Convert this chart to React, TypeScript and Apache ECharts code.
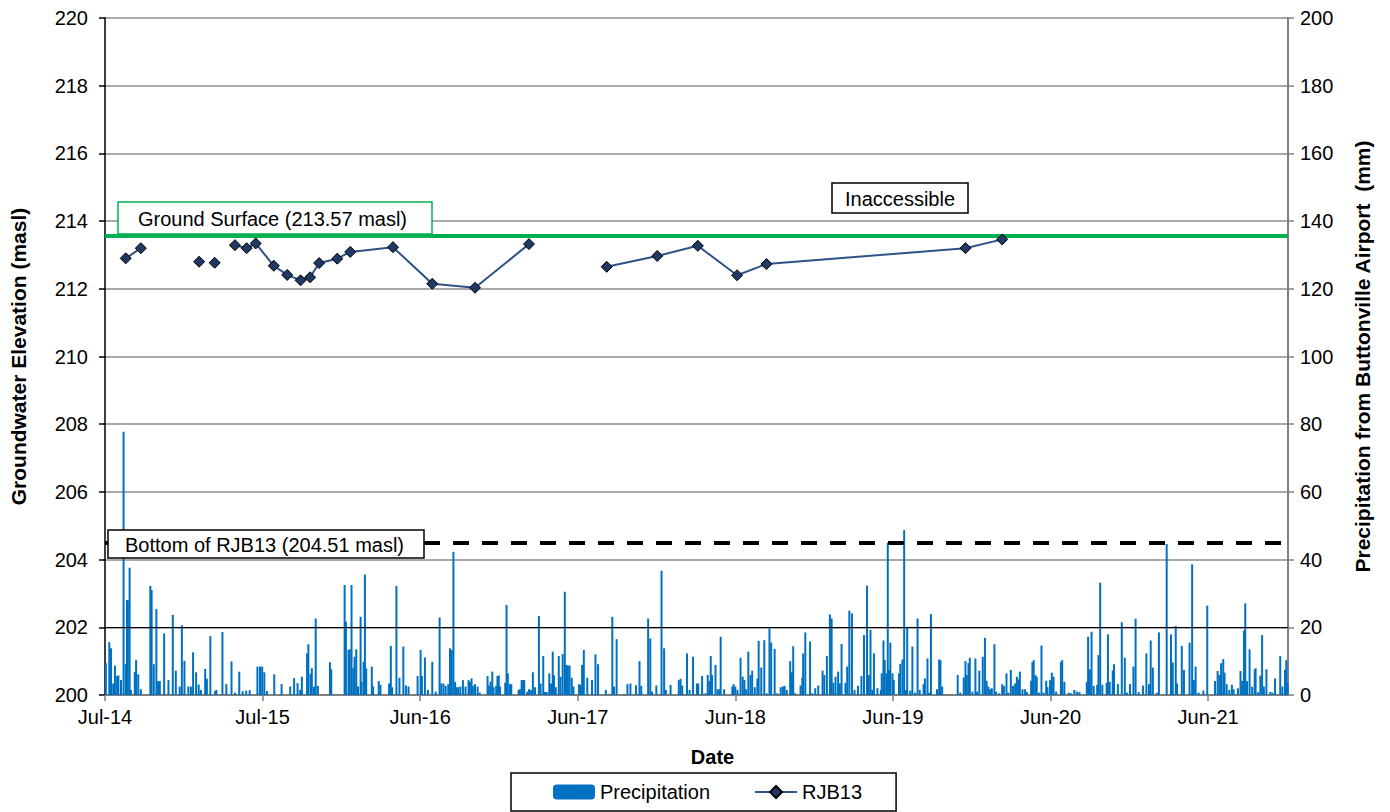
import { useEffect, useRef } from 'react';
import * as echarts from 'echarts';

// ---------- data ----------
const START_DATE = '2014-07-01';
const AXIS_END_DAY = 2740; // 2021-12-31
const TICK_STEP_DAYS = 365;
const MONTHS = ['Jan', 'Feb', 'Mar', 'Apr', 'May', 'Jun', 'Jul', 'Aug', 'Sep', 'Oct', 'Nov', 'Dec'];

const LEFT_MIN = 200;
const LEFT_MAX = 220;
const LEFT_STEP = 2;
const RIGHT_MIN = 0;
const RIGHT_MAX = 200;
const RIGHT_STEP = 20;

const GROUND_SURFACE = 213.57;
const WELL_BOTTOM = 204.51;

// RJB13 groundwater elevation (masl); null = no reading (line gap)
const gwDates = [
  '2014-08-18', '2014-09-22', '2014-12-01', '2015-02-04', '2015-02-20', '2015-03-12', '2015-04-01',
  '2015-04-28', '2015-05-25', '2015-06-15', '2015-07-27', '2015-08-27', '2015-09-27', '2015-10-19',
  '2015-11-09', '2015-12-21', '2016-01-20', '2016-04-28', '2016-07-28', '2016-11-04', '2017-03-09',
  '2017-06-01', '2017-09-05', '2017-12-31', '2018-04-04', '2018-07-04', '2018-09-10', '2019-12-15',
  '2020-03-09',
];
const gwLevels: (number | null)[] = [
  212.9, 213.2, null, 212.8, null, 212.77, null,
  213.29, 213.2, 213.34, 212.68, 212.41, 212.25, 212.34,
  212.76, 212.89, 213.09, 213.23, 212.15, 212.03, 213.32,
  null, 212.65, 212.97, 213.27, 212.4, 212.73, 213.2,
  213.46,
];

// Daily precipitation, Buttonville Airport: [days since START_DATE, mm]
const precip2014: [number, number][] = [
  [2, 9.4], [10, 15.6], [14, 13.8], [19, 3.4], [23, 8.7], [28, 5.6], [31, 5.8], [37, 4.4], [43, 77.8],
  [48, 9.1], [51, 28.0], [53, 28.0], [57, 37.6], [60, 1.5], [69, 6.8], [72, 10.3], [77, 6.1], [83, 1.7],
  [105, 32.2], [108, 31.0], [113, 9.1], [119, 25.4], [123, 4.1], [127, 4.1], [137, 18.2], [147, 4.4],
  [157, 23.7], [164, 7.2], [173, 2.5], [178, 20.6], [184, 10.1], [193, 2.5], [199, 2.5], [204, 12.6],
  [211, 6.7], [217, 3.1], [222, 1.5], [232, 7.7], [236, 4.8], [244, 17.4], [255, 1.2], [258, 1.5],
  [272, 18.6], [281, 3.2], [293, 9.9], [301, 0.7], [311, 6.9], [319, 1.1], [327, 1.3], [335, 1.4],
  [353, 8.4], [359, 8.4], [364, 8.4],
];
const precip2015: [number, number][] = [
  [369, 6.7], [375, 1.2], [392, 6.1], [409, 3.2], [429, 2.5], [438, 5.0], [446, 3.5], [452, 1.5],
  [456, 5.4], [468, 12.3], [471, 15.0], [476, 6.2], [479, 7.9], [484, 2.5], [488, 22.6], [493, 2.7],
  [521, 9.7], [524, 7.6], [555, 32.5], [558, 21.7], [564, 13.3], [567, 13.5], [571, 32.5], [575, 7.9],
  [578, 11.3], [582, 13.5], [586, 2.5], [592, 23.1], [594, 3.9], [599, 9.8], [602, 35.6], [605, 7.9],
  [618, 8.4], [621, 2.5], [634, 4.1], [638, 3.0], [658, 3.4], [662, 14.5], [665, 2.3], [675, 32.2],
  [682, 5.1], [691, 14.3], [697, 2.8], [703, 2.5], [724, 5.6],
];
const precip2016: [number, number][] = [
  [731, 13.3], [734, 5.6], [741, 11.1], [748, 1.5], [758, 9.8], [766, 1.0], [775, 22.9], [779, 3.4],
  [784, 3.4], [789, 2.7], [795, 3.2], [799, 13.8], [803, 13.3], [807, 42.3], [811, 3.9], [814, 2.3],
  [818, 2.3], [823, 2.5], [829, 4.4], [835, 2.5], [842, 4.4], [845, 3.9], [849, 4.9], [852, 2.7],
  [857, 3.2], [863, 2.5], [868, 0.7], [886, 5.6], [889, 2.8], [893, 3.9], [897, 6.9], [900, 2.3],
  [906, 2.7], [909, 5.6], [912, 5.8], [915, 2.5], [927, 3.6], [930, 26.6], [933, 6.4], [938, 3.2],
  [941, 3.2], [958, 1.5], [961, 1.7], [965, 4.4], [968, 4.4], [971, 4.4], [978, 1.0], [982, 1.7],
  [987, 1.5], [991, 6.7], [996, 2.3], [1005, 23.3], [1009, 3.4], [1015, 11.5], [1019, 0.9], [1023, 0.9],
  [1029, 6.4], [1033, 3.4], [1037, 12.8], [1040, 5.8], [1044, 2.3], [1051, 11.5], [1055, 5.4],
  [1060, 12.1], [1065, 30.5], [1068, 8.9], [1072, 8.7], [1076, 8.7], [1081, 5.1], [1085, 2.5],
];
const precip2017: [number, number][] = [
  [1098, 3.2], [1102, 3.0], [1105, 8.9], [1109, 13.3], [1117, 5.1], [1128, 4.4], [1136, 12.0],
  [1142, 9.1], [1160, 1.5], [1169, 0.3], [1175, 23.1], [1179, 2.5], [1185, 16.5], [1203, 0.3],
  [1210, 3.2], [1217, 3.4], [1230, 2.9], [1238, 10.0], [1242, 2.7], [1258, 22.6], [1263, 16.7],
  [1267, 1.0], [1277, 2.8], [1289, 36.7], [1295, 13.8], [1299, 1.5], [1310, 3.0], [1329, 4.4],
  [1333, 4.8], [1337, 2.8], [1348, 12.3], [1354, 1.5], [1362, 11.3], [1371, 3.4], [1374, 3.4],
  [1383, 5.6], [1391, 0.5], [1396, 5.9], [1400, 4.1], [1403, 11.5], [1406, 5.9], [1414, 8.9],
  [1419, 1.7], [1423, 1.7], [1426, 17.2], [1434, 1.7], [1453, 2.5], [1456, 3.2], [1460, 2.5],
];
const precip2018: [number, number][] = [
  [1465, 1.5], [1472, 11.0], [1477, 5.4], [1481, 4.4], [1485, 1.7], [1490, 12.8], [1495, 5.9],
  [1499, 7.2], [1505, 2.3], [1511, 4.8], [1514, 16.0], [1520, 8.1], [1527, 16.2], [1533, 0.5],
  [1539, 19.7], [1543, 15.5], [1551, 13.6], [1557, 0.5], [1565, 2.3], [1570, 2.5], [1574, 2.7],
  [1579, 1.5], [1587, 10.0], [1591, 6.7], [1594, 14.4], [1598, 0.5], [1611, 2.8], [1615, 5.1],
  [1617, 12.3], [1622, 18.5], [1633, 15.8], [1638, 0.5], [1645, 2.0], [1652, 2.8], [1662, 7.2],
  [1666, 5.9], [1672, 11.5], [1679, 23.8], [1683, 22.6], [1687, 3.6], [1692, 5.4], [1698, 6.9],
  [1702, 3.4], [1706, 15.1], [1715, 3.6], [1719, 8.4], [1724, 24.9], [1730, 24.1], [1736, 1.5],
  [1744, 2.7], [1752, 5.6], [1758, 17.7], [1765, 32.3], [1769, 5.9], [1773, 19.2], [1777, 1.5],
  [1781, 12.3], [1789, 2.0], [1797, 1.5], [1799, 6.4], [1803, 16.1], [1806, 10.3], [1810, 6.4],
  [1813, 45.0], [1816, 7.4], [1819, 15.5], [1824, 6.4],
];
const precip2019: [number, number][] = [
  [1827, 4.4], [1839, 6.4], [1842, 9.2], [1847, 10.5], [1851, 48.7], [1855, 1.5], [1858, 19.9],
  [1865, 1.3], [1870, 14.3], [1876, 0.7], [1882, 22.6], [1887, 1.5], [1896, 3.2], [1899, 4.9],
  [1905, 10.8], [1909, 0.7], [1913, 23.9], [1927, 1.7], [1932, 10.5], [1935, 10.3], [1939, 2.5],
  [1975, 5.9], [1981, 0.7], [1989, 5.2], [1993, 10.0], [1996, 5.9], [2000, 9.4], [2003, 11.0],
  [2009, 1.0], [2016, 10.8], [2020, 1.0], [2025, 7.2], [2033, 11.3], [2038, 16.9], [2042, 4.2],
  [2046, 2.5], [2050, 1.7], [2054, 2.0], [2060, 15.0], [2064, 1.0], [2071, 0.5], [2078, 3.2],
  [2082, 2.7], [2088, 6.4], [2092, 0.7], [2098, 7.4], [2103, 2.7], [2108, 3.4], [2112, 5.4],
  [2115, 4.6], [2119, 6.9], [2125, 1.7], [2131, 1.7], [2135, 0.9], [2145, 4.2], [2148, 9.7],
  [2151, 10.3], [2155, 5.9], [2158, 5.4], [2163, 0.7], [2169, 14.6], [2174, 0.7], [2180, 4.2],
  [2183, 2.3], [2189, 4.4],
];
const precip2020: [number, number][] = [
  [2193, 6.6], [2197, 5.4], [2203, 1.0], [2214, 9.8], [2217, 10.3], [2222, 3.9], [2232, 0.7],
  [2237, 0.5], [2245, 1.5], [2251, 1.0], [2257, 0.9], [2274, 3.9], [2277, 17.2], [2281, 7.6],
  [2285, 18.7], [2290, 2.7], [2298, 3.0], [2301, 11.8], [2305, 33.2], [2310, 3.0], [2320, 3.6],
  [2323, 17.9], [2327, 3.9], [2334, 7.2], [2337, 9.1], [2346, 3.2], [2355, 21.5], [2362, 11.0],
  [2367, 0.7], [2374, 3.2], [2382, 8.4], [2387, 22.5], [2394, 0.9], [2404, 2.8], [2412, 12.3],
  [2418, 3.2], [2422, 16.1], [2427, 8.1], [2436, 0.7], [2441, 18.5], [2459, 44.6], [2469, 17.9],
  [2473, 9.6], [2480, 20.4], [2483, 3.4], [2494, 14.5], [2499, 7.4], [2512, 15.5], [2518, 38.6],
  [2522, 4.4], [2526, 8.4], [2533, 0.7], [2544, 1.3], [2553, 26.4],
];
const precip2021: [number, number][] = [
  [2571, 4.1], [2577, 7.1], [2581, 5.9], [2585, 9.4], [2590, 10.6], [2593, 6.6], [2598, 3.2],
  [2604, 1.5], [2610, 3.0], [2614, 1.7], [2624, 2.0], [2630, 7.1], [2634, 4.2], [2638, 19.0],
  [2641, 27.1], [2645, 4.1], [2651, 13.5], [2657, 2.5], [2663, 7.6], [2665, 7.9], [2671, 0.9],
  [2676, 5.7], [2680, 17.7], [2684, 2.5], [2690, 7.6], [2699, 0.9], [2704, 0.7], [2710, 4.9],
  [2722, 11.5], [2727, 2.5], [2733, 7.4], [2736, 10.3], [2739, 3.6],
];

// ---------- helpers ----------
const DAY_MS = 86400000;
const startMs = Date.parse(START_DATE + 'T00:00:00Z');
const toDay = (s: string) => Math.round((Date.parse(s + 'T00:00:00Z') - startMs) / DAY_MS);
const dayLabel = (d: number) => {
  const dt = new Date(startMs + d * DAY_MS);
  return MONTHS[dt.getUTCMonth()] + '-' + String(dt.getUTCFullYear()).slice(2);
};

const FONT = '"Liberation Sans", Arial, Helvetica, sans-serif';

export default function App() {
  const ref = useRef<HTMLDivElement>(null);

  useEffect(() => {
    document.body.style.margin = '0';
    if (!ref.current) return;
    const chart = echarts.init(ref.current, undefined, { renderer: 'svg' });

    const precipData = [
      ...precip2014, ...precip2015, ...precip2016, ...precip2017,
      ...precip2018, ...precip2019, ...precip2020, ...precip2021,
    ];
    const gwData = gwDates.map((d, i) => [toDay(d), gwLevels[i] === null ? '-' : gwLevels[i]]);

    chart.setOption({
      animation: false,
      textStyle: { fontFamily: FONT },
      grid: { left: 104, right: 102, top: 18, bottom: 117, containLabel: false },
      legend: {
        left: 511,
        top: 773,
        orient: 'horizontal',
        data: ['Precipitation', 'RJB13'],
        itemWidth: 42,
        itemHeight: 15,
        itemGap: 44,
        padding: [9, 34, 9, 42],
        borderColor: '#000',
        borderWidth: 1.5,
        borderRadius: 0,
        textStyle: { fontSize: 20, color: '#000', fontFamily: FONT },
      },
      xAxis: {
        type: 'value',
        min: 0,
        max: AXIS_END_DAY,
        interval: TICK_STEP_DAYS,
        name: 'Date',
        nameLocation: 'middle',
        nameGap: 52,
        nameTextStyle: { fontSize: 20, fontWeight: 'bold', color: '#000', fontFamily: FONT, padding: [0, 0, 0, 32] },
        axisLine: { show: true, lineStyle: { color: '#808080', width: 2 } },
        axisTick: { show: true, length: 6, lineStyle: { color: '#808080', width: 1.5 } },
        axisLabel: {
          fontSize: 20,
          color: '#000',
          margin: 12,
          showMaxLabel: false,
          formatter: (v: number) => (v > AXIS_END_DAY - 100 ? '' : dayLabel(v)),
        },
        splitLine: { show: false },
      },
      yAxis: [
        {
          type: 'value',
          position: 'left',
          min: LEFT_MIN,
          max: LEFT_MAX,
          interval: LEFT_STEP,
          name: 'Groundwater Elevation (masl)',
          nameLocation: 'middle',
          nameRotate: 90,
          nameGap: 76,
          nameTextStyle: { fontSize: 21, fontWeight: 'bold', color: '#000', fontFamily: FONT },
          axisLine: { show: true, lineStyle: { color: '#000', width: 1.5 } },
          axisTick: { show: true, length: 6, lineStyle: { color: '#000', width: 1.5 } },
          axisLabel: { fontSize: 20, color: '#000', margin: 17 },
          splitLine: { show: true, lineStyle: { color: '#8c8c8c', width: 1.5 } },
        },
        {
          type: 'value',
          position: 'right',
          min: RIGHT_MIN,
          max: RIGHT_MAX,
          interval: RIGHT_STEP,
          name: 'Precipitation from Buttonville Airport  (mm)',
          nameLocation: 'middle',
          nameRotate: 90,
          nameGap: 64,
          nameTextStyle: { fontSize: 21, fontWeight: 'bold', color: '#000', fontFamily: FONT },
          axisLine: { show: true, lineStyle: { color: '#808080', width: 2 } },
          axisTick: { show: true, length: 6, lineStyle: { color: '#808080', width: 1.5 } },
          axisLabel: { fontSize: 20, color: '#000', margin: 12 },
          splitLine: { show: false },
        },
      ],
      series: [
        {
          name: 'Precipitation',
          type: 'bar',
          xAxisIndex: 0,
          yAxisIndex: 1,
          data: precipData,
          barWidth: 2,
          itemStyle: { color: '#0070C0' },
          z: 2,
          markLine: {
            silent: true,
            symbol: 'none',
            label: { show: false },
            lineStyle: { color: '#000', width: 1, type: 'solid' },
            data: [{ yAxis: RIGHT_STEP }],
          },
        },
        {
          name: 'RJB13',
          type: 'line',
          xAxisIndex: 0,
          yAxisIndex: 0,
          data: gwData,
          connectNulls: false,
          symbol: 'diamond',
          symbolSize: 11,
          showSymbol: true,
          lineStyle: { color: '#2E5288', width: 2 },
          itemStyle: { color: '#1F3864', borderColor: '#000', borderWidth: 1 },
          z: 5,
          markLine: {
            silent: true,
            symbol: 'none',
            label: { show: false },
            data: [
              { yAxis: GROUND_SURFACE, lineStyle: { color: '#00B050', width: 4, type: 'solid' } },
              { yAxis: WELL_BOTTOM, lineStyle: { color: '#000', width: 4, type: [16, 13] } },
            ],
          },
        },
      ],
      graphic: [
        {
          type: 'rect', z: 100,
          shape: { x: 118, y: 202, width: 314, height: 32 },
          style: { fill: '#fff', stroke: '#00B050', lineWidth: 1.5 },
        },
        {
          type: 'text', z: 101, x: 138, y: 219,
          style: { text: 'Ground Surface (213.57 masl)', fontSize: 20, fontFamily: FONT, fill: '#000', align: 'left', verticalAlign: 'middle' },
        },
        {
          type: 'rect', z: 100,
          shape: { x: 832, y: 183, width: 136, height: 30 },
          style: { fill: '#fff', stroke: '#000', lineWidth: 1.5 },
        },
        {
          type: 'text', z: 101, x: 900, y: 199,
          style: { text: 'Inaccessible', fontSize: 20, fontFamily: FONT, fill: '#000', align: 'center', verticalAlign: 'middle' },
        },
        {
          type: 'rect', z: 100,
          shape: { x: 108, y: 530, width: 316, height: 28 },
          style: { fill: '#fff', stroke: '#000', lineWidth: 1.5 },
        },
        {
          type: 'text', z: 101, x: 125, y: 545,
          style: { text: 'Bottom of RJB13 (204.51 masl)', fontSize: 20, fontFamily: FONT, fill: '#000', align: 'left', verticalAlign: 'middle' },
        },
      ],
    });

    return () => chart.dispose();
  }, []);

  return <div ref={ref} style={{ width: 1390, height: 812 }} />;
}
